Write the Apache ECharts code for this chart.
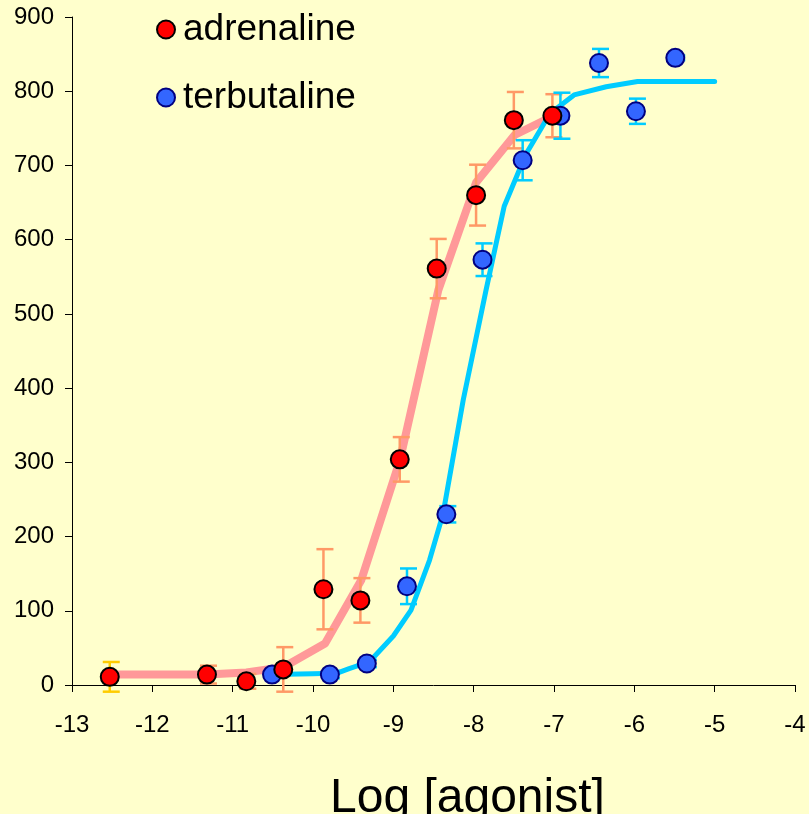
<!DOCTYPE html>
<html>
<head>
<meta charset="utf-8">
<script src="https://cdn.jsdelivr.net/npm/echarts@6/dist/echarts.min.js"></script>
<style>
  html, body { margin: 0; padding: 0; background: #FFFFCC; }
  #chart { width: 809px; height: 814px; }
</style>
</head>
<body>
<div id="chart"></div>
<script>
// Concentration-response data (log molar agonist vs response)
const adrenalineLogConc = [-12.53, -11.32, -10.83, -10.37, -9.87, -9.41, -8.92, -8.46, -7.97, -7.50, -7.02];
const adrenalineResp    = [11, 14, 5, 21, 129, 114, 304, 561, 660, 761, 767];
const adrenalineSem     = [20, 12, 10, 30, 54, 30, 30, 40, 41, 38, 29];

const terbutalineLogConc = [-10.51, -9.79, -9.33, -8.83, -8.34, -7.89, -7.39, -6.92, -6.44, -5.98, -5.49];
const terbutalineResp    = [14, 14, 29, 133, 230, 573, 707, 767, 838, 773, 845];
const terbutalineSem     = [3, 5, 5, 24, 11, 22, 27, 31, 19, 17, 3];

// Fitted sigmoid curves
const adrenalineFitX = [-12.53, -11.32, -10.83, -10.37, -9.85, -9.40, -8.92, -8.44, -7.97, -7.49, -7.02];
const adrenalineFitY = [14, 14, 17, 24, 56, 141, 302, 532, 677, 741, 766];

const terbutalineFitX = [-10.5, -10.0, -9.7, -9.55, -9.3, -9.0, -8.78, -8.55, -8.38, -8.13, -7.85, -7.62, -7.35, -7.05, -6.75, -6.35, -5.96, -5.0];
const terbutalineFitY = [14, 15, 16, 22, 31, 66, 101, 168, 231, 384, 530, 645, 715, 770, 795, 806, 813, 813];

// Axis ranges
const xMin = -13, xMax = -4, xStep = 1;
const yMin = 0, yMax = 900, yStep = 100;

const FONT = '"Liberation Sans", Arial, Helvetica, sans-serif';

const zip = (xs, ys) => xs.map((x, i) => [x, ys[i]]);
const errRows = (xs, ys, es) => xs.map((x, i) => [x, ys[i] - es[i], ys[i] + es[i]]);

function errorBars(color, firstColor) {
  return function (params, api) {
    const x = api.value(0);
    const lo = api.coord([x, api.value(1)]);
    const hi = api.coord([x, api.value(2)]);
    const c = (params.dataIndex === 0 && firstColor) ? firstColor : color;
    const style = { stroke: c, lineWidth: 2.5 };
    const capL = -7, capR = 10;
    return {
      type: 'group',
      children: [
        { type: 'line', shape: { x1: lo[0], y1: lo[1], x2: hi[0], y2: hi[1] }, style },
        { type: 'line', shape: { x1: hi[0] + capL, y1: hi[1], x2: hi[0] + capR, y2: hi[1] }, style },
        { type: 'line', shape: { x1: lo[0] + capL, y1: lo[1], x2: lo[0] + capR, y2: lo[1] }, style }
      ]
    };
  };
}

const chart = echarts.init(document.getElementById('chart'), null, { renderer: 'canvas' });

chart.setOption({
  backgroundColor: '#FFFFCC',
  animation: false,
  textStyle: { fontFamily: FONT },
  grid: { left: 72, right: 14, top: 17, bottom: 129, containLabel: false },
  xAxis: {
    type: 'value', min: xMin, max: xMax, interval: xStep,
    axisLine: { onZero: false, lineStyle: { color: '#000', width: 1 } },
    axisTick: { show: true, length: 7, lineStyle: { color: '#000' } },
    axisLabel: { color: '#000', fontSize: 24, fontFamily: FONT, margin: 28 },
    splitLine: { show: false }
  },
  yAxis: {
    type: 'value', min: yMin, max: yMax, interval: yStep,
    axisLine: { show: true, lineStyle: { color: '#000', width: 1 } },
    axisTick: { show: true, length: 7, lineStyle: { color: '#000' } },
    axisLabel: { color: '#000', fontSize: 24, fontFamily: FONT, margin: 18, verticalAlign: 'middle', padding: [6, 0, 0, 0] },
    splitLine: { show: false }
  },
  legend: {
    data: ['adrenaline', 'terbutaline'],
    orient: 'vertical',
    left: 151, top: 6,
    itemWidth: 18, itemHeight: 18,
    itemGap: 31,
    icon: 'circle',
    textStyle: { fontSize: 37, color: '#000', fontFamily: FONT, padding: [0, 0, 0, 3] }
  },
  graphic: [{
    type: 'text',
    left: 330, top: 775,
    style: { text: 'Log [agonist]', font: '48px ' + FONT, fill: '#000' }
  }],
  series: [
    {
      name: 'adrenaline fit', type: 'line', data: zip(adrenalineFitX, adrenalineFitY),
      showSymbol: false, symbol: 'none', z: 2,
      lineStyle: { color: '#FF9999', width: 8, cap: 'round', join: 'round' }
    },
    {
      name: 'terbutaline fit', type: 'line', data: zip(terbutalineFitX, terbutalineFitY),
      showSymbol: false, symbol: 'none', z: 3,
      lineStyle: { color: '#00CCFF', width: 5, cap: 'round', join: 'round' }
    },
    {
      name: 'adrenaline sem', type: 'custom', z: 4,
      data: errRows(adrenalineLogConc, adrenalineResp, adrenalineSem),
      encode: { x: 0, y: [1, 2] },
      renderItem: errorBars('#FF9966', '#FFCC00')
    },
    {
      name: 'terbutaline sem', type: 'custom', z: 4,
      data: errRows(terbutalineLogConc, terbutalineResp, terbutalineSem),
      encode: { x: 0, y: [1, 2] },
      renderItem: errorBars('#00CCFF')
    },
    {
      name: 'terbutaline', type: 'scatter', z: 5,
      data: zip(terbutalineLogConc, terbutalineResp),
      symbolSize: 18,
      itemStyle: { color: '#3366FF', borderColor: '#000080', borderWidth: 2, opacity: 1 }
    },
    {
      name: 'adrenaline', type: 'scatter', z: 6,
      data: zip(adrenalineLogConc, adrenalineResp),
      symbolSize: 18,
      itemStyle: { color: '#FF0000', borderColor: '#000000', borderWidth: 2, opacity: 1 }
    }
  ]
});
</script>
</body>
</html>
